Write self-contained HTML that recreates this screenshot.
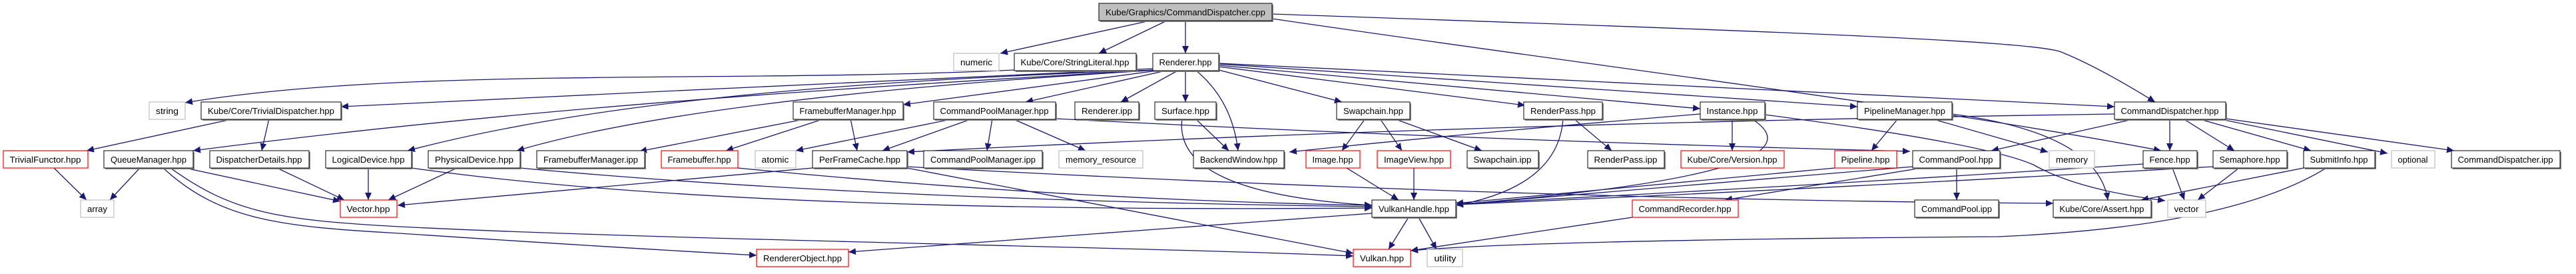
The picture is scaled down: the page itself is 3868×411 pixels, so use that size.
<!DOCTYPE html>
<html><head><meta charset="utf-8"><style>
html,body{margin:0;padding:0;background:#fff;}
svg{display:block;}
text{font-family:"Liberation Sans",Arial,sans-serif;font-size:12.5px;fill:#000;}
.e{fill:none;stroke:#191970;stroke-width:1.3;marker-end:url(#a);}
.n{fill:#fff;stroke:#000;stroke-width:1;}
.s{fill:#888;}
.r{fill:#fff;stroke:#ff0000;stroke-width:1.2;}
.g{fill:#fff;stroke:#bfbfbf;stroke-width:1.2;}
</style></head><body>
<svg width="3868" height="411" viewBox="0 0 3868 411" xmlns="http://www.w3.org/2000/svg">
<defs><marker id="a" markerUnits="userSpaceOnUse" markerWidth="12" markerHeight="10" refX="11" refY="5" orient="auto"><path d="M0,0 L11,5 L0,10 z" fill="#191970"/></marker></defs>
<g>
<path class="e" d="M1727,31 L1502,80"/>
<path class="e" d="M1752,31 L1650,80"/>
<path class="e" d="M1780,31 L1780,80"/>
<path class="e" d="M1910,21 C2600,45 3050,60 3095,78 Q3150,100 3236,153"/>
<path class="e" d="M1910,28 C2400,100 2900,160 3245,226"/>
<path class="e" d="M1523,105 C1100,125 600,100 278,154"/>
<path class="e" d="M1731,103 C1400,120 900,140 512,160"/>
<path class="e" d="M1731,105 C1300,130 800,160 290,226"/>
<path class="e" d="M1735,105 C1300,120 900,150 612,226"/>
<path class="e" d="M1740,105 C1400,125 1000,160 776,226"/>
<path class="e" d="M1745,105 L1356,157"/>
<path class="e" d="M1755,105 L1540,153"/>
<path class="e" d="M1770,105 L1683,153"/>
<path class="e" d="M1780,105 L1780,153"/>
<path class="e" d="M1795,105 Q1850,150 1859,226"/>
<path class="e" d="M1830,105 L2015,153"/>
<path class="e" d="M1830,100 L2290,158"/>
<path class="e" d="M1830,98 L2553,163"/>
<path class="e" d="M1830,96 L2789,160"/>
<path class="e" d="M1830,95 L3175,160"/>
<path class="e" d="M352,178 L130,226"/>
<path class="e" d="M404,178 L393,226"/>
<path class="e" d="M81,252 L130,300"/>
<path class="e" d="M210,252 L165,300"/>
<path class="e" d="M278,252 L511,302"/>
<path class="e" d="M256,252 C350,320 420,330 600,340 C1000,360 1700,370 2032,384"/>
<path class="e" d="M245,252 C330,330 420,340 600,350 Q900,370 1136,383"/>
<path class="e" d="M416,252 L517,300"/>
<path class="e" d="M553,252 L553,300"/>
<path class="e" d="M618,252 Q1100,320 2060,312"/>
<path class="e" d="M686,252 L583,300"/>
<path class="e" d="M781,252 Q1300,300 2060,310"/>
<path class="e" d="M1212,178 L960,227"/>
<path class="e" d="M1238,178 L1090,226"/>
<path class="e" d="M1277,178 L1287,226"/>
<path class="e" d="M1108,252 Q1600,300 2060,308"/>
<path class="e" d="M1433,178 L1195,226"/>
<path class="e" d="M1460,178 L1325,226"/>
<path class="e" d="M1490,178 L1482,226"/>
<path class="e" d="M1520,178 L1630,226"/>
<path class="e" d="M1585,178 Q2200,210 2868,227"/>
<path class="e" d="M1220,252 Q900,280 597,308"/>
<path class="e" d="M1362,252 L2032,380"/>
<path class="e" d="M1362,250 Q2300,300 3083,305"/>
<path class="e" d="M1795,178 L1845,226"/>
<path class="e" d="M1775,178 Q1760,290 2060,308"/>
<path class="e" d="M3175,171 Q2200,185 1362,228"/>
<path class="e" d="M2050,178 L2015,226"/>
<path class="e" d="M2072,178 L2105,226"/>
<path class="e" d="M2093,178 L2225,226"/>
<path class="e" d="M2363,178 L2420,226"/>
<path class="e" d="M2347,178 Q2340,280 2186,308"/>
<path class="e" d="M2553,171 Q2200,200 1936,228"/>
<path class="e" d="M2601,178 L2601,226"/>
<path class="e" d="M2630,178 Q2760,260 2186,307"/>
<path class="e" d="M2650,172 Q2980,215 3053,247 Q3120,285 3251,301"/>
<path class="e" d="M2850,178 L2810,226"/>
<path class="e" d="M2900,178 L3075,228"/>
<path class="e" d="M2931,171 Q3150,200 3165,300"/>
<path class="e" d="M2022,252 L2100,300"/>
<path class="e" d="M2123,252 L2123,300"/>
<path class="e" d="M2755,252 L2186,305"/>
<path class="e" d="M2872,250 L2186,307"/>
<path class="e" d="M2885,252 L2590,300"/>
<path class="e" d="M2938,252 L2938,300"/>
<path class="e" d="M2451,326 L2118,376"/>
<path class="e" d="M2115,326 L2085,374"/>
<path class="e" d="M2130,326 L2157,374"/>
<path class="e" d="M2060,320 L1274,378"/>
<path class="e" d="M3207,178 L2990,226"/>
<path class="e" d="M3258,178 L3258,226"/>
<path class="e" d="M3278,178 L3355,226"/>
<path class="e" d="M3300,178 L3470,226"/>
<path class="e" d="M3330,178 L3585,230"/>
<path class="e" d="M3342,178 L3685,226"/>
<path class="e" d="M3262,252 L3280,300"/>
<path class="e" d="M3218,246 Q2700,280 2186,306"/>
<path class="e" d="M3362,252 L3300,300"/>
<path class="e" d="M3323,250 Q2700,285 2186,307"/>
<path class="e" d="M3459,252 L3215,300"/>
<path class="e" d="M3493,252 Q3350,340 3000,355 Q2300,360 2118,376"/>
</g>
<g>
<!-- row0 -->
<rect class="s" x="1652" y="7" width="260" height="26"/><rect x="1650" y="5" width="260" height="26" fill="#bfbfbf" stroke="#000"/><text x="1780" y="23" text-anchor="middle" textLength="240" lengthAdjust="spacingAndGlyphs">Kube/Graphics/CommandDispatcher.cpp</text>
<!-- row1 -->
<rect class="g" x="1432" y="80" width="68" height="26"/><text x="1466" y="98" text-anchor="middle" textLength="48" lengthAdjust="spacingAndGlyphs">numeric</text>
<rect class="s" x="1525" y="82" width="183" height="26"/><rect class="n" x="1523" y="80" width="183" height="26"/><text x="1614" y="98" text-anchor="middle" textLength="163" lengthAdjust="spacingAndGlyphs">Kube/Core/StringLiteral.hpp</text>
<rect class="s" x="1733" y="82" width="99" height="26"/><rect class="n" x="1731" y="80" width="99" height="26"/><text x="1780" y="98" text-anchor="middle" textLength="79" lengthAdjust="spacingAndGlyphs">Renderer.hpp</text>
<!-- row2 -->
<rect class="g" x="224" y="153" width="54" height="26"/><text x="251" y="171" text-anchor="middle" textLength="34" lengthAdjust="spacingAndGlyphs">string</text>
<rect class="s" x="304" y="155" width="210" height="26"/><rect class="n" x="302" y="153" width="210" height="26"/><text x="407" y="171" text-anchor="middle" textLength="190" lengthAdjust="spacingAndGlyphs">Kube/Core/TrivialDispatcher.hpp</text>
<rect class="s" x="1193" y="155" width="165" height="26"/><rect class="n" x="1191" y="153" width="165" height="26"/><text x="1273" y="171" text-anchor="middle" textLength="145" lengthAdjust="spacingAndGlyphs">FramebufferManager.hpp</text>
<rect class="s" x="1404" y="155" width="183" height="26"/><rect class="n" x="1402" y="153" width="183" height="26"/><text x="1493" y="171" text-anchor="middle" textLength="163" lengthAdjust="spacingAndGlyphs">CommandPoolManager.hpp</text>
<rect class="s" x="1616" y="155" width="96" height="26"/><rect class="n" x="1614" y="153" width="96" height="26"/><text x="1662" y="171" text-anchor="middle" textLength="76" lengthAdjust="spacingAndGlyphs">Renderer.ipp</text>
<rect class="s" x="1736" y="155" width="92" height="26"/><rect class="n" x="1734" y="153" width="92" height="26"/><text x="1780" y="171" text-anchor="middle" textLength="72" lengthAdjust="spacingAndGlyphs">Surface.hpp</text>
<rect class="s" x="2009" y="155" width="110" height="26"/><rect class="n" x="2007" y="153" width="110" height="26"/><text x="2062" y="171" text-anchor="middle" textLength="90" lengthAdjust="spacingAndGlyphs">Swapchain.hpp</text>
<rect class="s" x="2290" y="155" width="118" height="26"/><rect class="n" x="2288" y="153" width="118" height="26"/><text x="2347" y="171" text-anchor="middle" textLength="98" lengthAdjust="spacingAndGlyphs">RenderPass.hpp</text>
<rect class="s" x="2555" y="155" width="97" height="26"/><rect class="n" x="2553" y="153" width="97" height="26"/><text x="2601" y="171" text-anchor="middle" textLength="77" lengthAdjust="spacingAndGlyphs">Instance.hpp</text>
<rect class="s" x="2791" y="155" width="142" height="26"/><rect class="n" x="2789" y="153" width="142" height="26"/><text x="2860" y="171" text-anchor="middle" textLength="122" lengthAdjust="spacingAndGlyphs">PipelineManager.hpp</text>
<rect class="s" x="3177" y="155" width="167" height="26"/><rect class="n" x="3175" y="153" width="167" height="26"/><text x="3258" y="171" text-anchor="middle" textLength="147" lengthAdjust="spacingAndGlyphs">CommandDispatcher.hpp</text>
<!-- row3 -->
<rect class="r" x="5" y="226" width="127" height="26"/><text x="68" y="244" text-anchor="middle" textLength="107" lengthAdjust="spacingAndGlyphs">TrivialFunctor.hpp</text>
<rect class="s" x="158" y="228" width="134" height="26"/><rect class="n" x="156" y="226" width="134" height="26"/><text x="223" y="244" text-anchor="middle" textLength="114" lengthAdjust="spacingAndGlyphs">QueueManager.hpp</text>
<rect class="s" x="317" y="228" width="149" height="26"/><rect class="n" x="315" y="226" width="149" height="26"/><text x="389" y="244" text-anchor="middle" textLength="129" lengthAdjust="spacingAndGlyphs">DispatcherDetails.hpp</text>
<rect class="s" x="491" y="228" width="129" height="26"/><rect class="n" x="489" y="226" width="129" height="26"/><text x="553" y="244" text-anchor="middle" textLength="109" lengthAdjust="spacingAndGlyphs">LogicalDevice.hpp</text>
<rect class="s" x="645" y="228" width="138" height="26"/><rect class="n" x="643" y="226" width="138" height="26"/><text x="712" y="244" text-anchor="middle" textLength="118" lengthAdjust="spacingAndGlyphs">PhysicalDevice.hpp</text>
<rect class="s" x="808" y="228" width="162" height="26"/><rect class="n" x="806" y="226" width="162" height="26"/><text x="887" y="244" text-anchor="middle" textLength="142" lengthAdjust="spacingAndGlyphs">FramebufferManager.ipp</text>
<rect class="r" x="993" y="226" width="115" height="26"/><text x="1050" y="244" text-anchor="middle" textLength="95" lengthAdjust="spacingAndGlyphs">Framebuffer.hpp</text>
<rect class="g" x="1134" y="226" width="61" height="26"/><text x="1164" y="244" text-anchor="middle" textLength="41" lengthAdjust="spacingAndGlyphs">atomic</text>
<rect class="s" x="1222" y="228" width="142" height="26"/><rect class="n" x="1220" y="226" width="142" height="26"/><text x="1291" y="244" text-anchor="middle" textLength="122" lengthAdjust="spacingAndGlyphs">PerFrameCache.hpp</text>
<rect class="s" x="1389" y="228" width="178" height="26"/><rect class="n" x="1387" y="226" width="178" height="26"/><text x="1476" y="244" text-anchor="middle" textLength="158" lengthAdjust="spacingAndGlyphs">CommandPoolManager.ipp</text>
<rect class="g" x="1590" y="226" width="126" height="26"/><text x="1653" y="244" text-anchor="middle" textLength="106" lengthAdjust="spacingAndGlyphs">memory_resource</text>
<rect class="s" x="1794" y="228" width="136" height="26"/><rect class="n" x="1792" y="226" width="136" height="26"/><text x="1860" y="244" text-anchor="middle" textLength="116" lengthAdjust="spacingAndGlyphs">BackendWindow.hpp</text>
<rect class="r" x="1961" y="226" width="81" height="26"/><text x="2001" y="244" text-anchor="middle" textLength="61" lengthAdjust="spacingAndGlyphs">Image.hpp</text>
<rect class="r" x="2068" y="226" width="110" height="26"/><text x="2123" y="244" text-anchor="middle" textLength="90" lengthAdjust="spacingAndGlyphs">ImageView.hpp</text>
<rect class="s" x="2205" y="228" width="107" height="26"/><rect class="n" x="2203" y="226" width="107" height="26"/><text x="2256" y="244" text-anchor="middle" textLength="87" lengthAdjust="spacingAndGlyphs">Swapchain.ipp</text>
<rect class="s" x="2386" y="228" width="115" height="26"/><rect class="n" x="2384" y="226" width="115" height="26"/><text x="2441" y="244" text-anchor="middle" textLength="95" lengthAdjust="spacingAndGlyphs">RenderPass.ipp</text>
<rect class="r" x="2524" y="226" width="155" height="26"/><text x="2601" y="244" text-anchor="middle" textLength="135" lengthAdjust="spacingAndGlyphs">Kube/Core/Version.hpp</text>
<rect class="r" x="2755" y="226" width="93" height="26"/><text x="2801" y="244" text-anchor="middle" textLength="73" lengthAdjust="spacingAndGlyphs">Pipeline.hpp</text>
<rect class="s" x="2874" y="228" width="131" height="26"/><rect class="n" x="2872" y="226" width="131" height="26"/><text x="2937" y="244" text-anchor="middle" textLength="111" lengthAdjust="spacingAndGlyphs">CommandPool.hpp</text>
<rect class="g" x="3077" y="226" width="68" height="26"/><text x="3111" y="244" text-anchor="middle" textLength="48" lengthAdjust="spacingAndGlyphs">memory</text>
<rect class="s" x="3220" y="228" width="81" height="26"/><rect class="n" x="3218" y="226" width="81" height="26"/><text x="3258" y="244" text-anchor="middle" textLength="61" lengthAdjust="spacingAndGlyphs">Fence.hpp</text>
<rect class="s" x="3325" y="228" width="111" height="26"/><rect class="n" x="3323" y="226" width="111" height="26"/><text x="3378" y="244" text-anchor="middle" textLength="91" lengthAdjust="spacingAndGlyphs">Semaphore.hpp</text>
<rect class="s" x="3461" y="228" width="107" height="26"/><rect class="n" x="3459" y="226" width="107" height="26"/><text x="3512" y="244" text-anchor="middle" textLength="87" lengthAdjust="spacingAndGlyphs">SubmitInfo.hpp</text>
<rect class="g" x="3591" y="226" width="65" height="26"/><text x="3623" y="244" text-anchor="middle" textLength="45" lengthAdjust="spacingAndGlyphs">optional</text>
<rect class="s" x="3683" y="228" width="163" height="26"/><rect class="n" x="3681" y="226" width="163" height="26"/><text x="3762" y="244" text-anchor="middle" textLength="143" lengthAdjust="spacingAndGlyphs">CommandDispatcher.ipp</text>
<!-- row4 -->
<rect class="g" x="121" y="300" width="50" height="26"/><text x="146" y="318" text-anchor="middle" textLength="30" lengthAdjust="spacingAndGlyphs">array</text>
<rect class="r" x="511" y="300" width="85" height="26"/><text x="553" y="318" text-anchor="middle" textLength="65" lengthAdjust="spacingAndGlyphs">Vector.hpp</text>
<rect class="s" x="2062" y="302" width="126" height="26"/><rect class="n" x="2060" y="300" width="126" height="26"/><text x="2123" y="318" text-anchor="middle" textLength="106" lengthAdjust="spacingAndGlyphs">VulkanHandle.hpp</text>
<rect class="r" x="2451" y="300" width="159" height="26"/><text x="2530" y="318" text-anchor="middle" textLength="139" lengthAdjust="spacingAndGlyphs">CommandRecorder.hpp</text>
<rect class="s" x="2877" y="302" width="126" height="26"/><rect class="n" x="2875" y="300" width="126" height="26"/><text x="2938" y="318" text-anchor="middle" textLength="106" lengthAdjust="spacingAndGlyphs">CommandPool.ipp</text>
<rect class="s" x="3085" y="302" width="147" height="26"/><rect class="n" x="3083" y="300" width="147" height="26"/><text x="3156" y="318" text-anchor="middle" textLength="127" lengthAdjust="spacingAndGlyphs">Kube/Core/Assert.hpp</text>
<rect class="g" x="3255" y="300" width="57" height="26"/><text x="3283" y="318" text-anchor="middle" textLength="37" lengthAdjust="spacingAndGlyphs">vector</text>
<!-- row5 -->
<rect class="r" x="1136" y="374" width="138" height="26"/><text x="1205" y="392" text-anchor="middle" textLength="118" lengthAdjust="spacingAndGlyphs">RendererObject.hpp</text>
<rect class="r" x="2032" y="374" width="86" height="26"/><text x="2075" y="392" text-anchor="middle" textLength="66" lengthAdjust="spacingAndGlyphs">Vulkan.hpp</text>
<rect class="g" x="2143" y="374" width="53" height="26"/><text x="2170" y="392" text-anchor="middle" textLength="33" lengthAdjust="spacingAndGlyphs">utility</text>
</g>
</svg>
</body></html>
